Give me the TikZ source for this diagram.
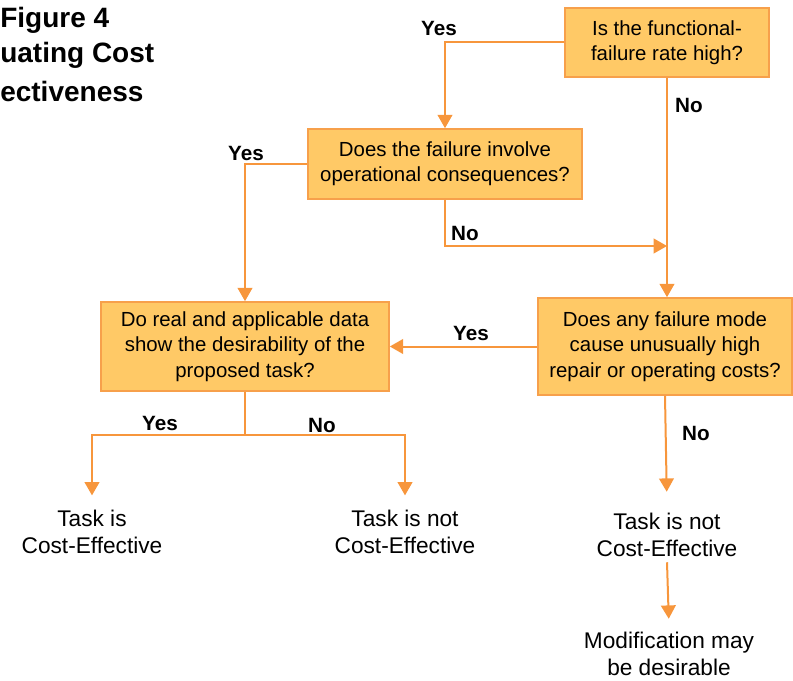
\documentclass[tikz,border=0pt]{standalone}
\usepackage{fontspec}
\setmainfont{Liberation Sans}
\usetikzlibrary{arrows.meta}
\definecolor{flowline}{RGB}{247,150,60}
\definecolor{boxfill}{RGB}{255,201,102}
\definecolor{boxedge}{RGB}{247,160,75}

\begin{document}
\begin{tikzpicture}[x=0.75pt,y=-0.75pt,
    question/.style={draw=boxedge, fill=boxfill, line width=1.2pt, align=center,
        font=\fontsize{15.3}{19}\selectfont, inner sep=0pt},
    outcome/.style={align=center, font=\fontsize{17}{20}\selectfont, inner sep=4pt},
    answer/.style={font=\fontsize{15.5}{18}\selectfont\bfseries, inner sep=0pt},
    heading/.style={font=\fontsize{21}{26}\selectfont\bfseries, inner sep=0pt, anchor=base west},
    flow/.style={draw=flowline, line width=1.5pt},
    arr/.style={flow, -{Triangle[width=11pt,length=10pt]}}]
        \useasboundingbox (0,0) rectangle (793,681);

        % title, cut at the left edge
        \node[heading] (title1) at (0,28) {Figure 4};
        \node[heading] (title2) at (0,63) {uating Cost};
        \node[heading] (title3) at (0,102) {ectiveness};

        % questions
        \node[question, minimum width=153pt, minimum height=51.75pt] (q1) at (667,42.5)
            {Is the functional-\\failure rate high?};
        \node[question, minimum width=205.5pt, minimum height=52.5pt] (q2) at (445,164)
            {Does the failure involve\\operational consequences?};
        \node[question, minimum width=216pt, minimum height=66.75pt] (q3) at (245,346.5)
            {Do real and applicable data\\show the desirability of the\\proposed task?};
        \node[question, minimum width=190.5pt, minimum height=72.75pt] (q4) at (665,346.5)
            {Does any failure mode\\cause unusually high\\repair or operating costs?};

        % outcomes
        \node[outcome] (t1) at (92,532) {Task is\\Cost-Effective};
        \node[outcome] (t2) at (405,532) {Task is not\\Cost-Effective};
        \node[outcome] (t3) at (667,535) {Task is not\\Cost-Effective};
        \node[outcome] (t4) at (669,654) {Modification may\\be desirable};

        \coordinate (merge) at (667,246);
        \coordinate (split) at (245,435);

        % connectors
        \draw[arr] (q1.west) -| (q2.north);
        \draw[arr] (q1.south) -- (q1.south |- q4.north);
        \draw[arr] (q2.west) -| (q3.north);
        \draw[arr] (q2.south) |- (merge);
        \draw[arr] (q4.west) -- (q3.east);
        \draw[flow] (q3.south) -- (split);
        \draw[arr, shorten >=7pt] (split) -| (t1.north);
        \draw[arr, shorten >=7pt] (split) -| (t2.north);
        \draw[arr, shorten >=12pt] (q4.south) -- (t3.north);
        \draw[arr, shorten >=6pt] (t3.south) -- (t4.north);

        % answers
        \node[answer] (yes1) at (439,28) {Yes};
        \node[answer] (no1) at (689,105) {No};
        \node[answer] (yes2) at (246,153) {Yes};
        \node[answer] (no2) at (465,233) {No};
        \node[answer] (yes3) at (471,333) {Yes};
        \node[answer] (yes4) at (160,423) {Yes};
        \node[answer] (no4) at (322,425) {No};
        \node[answer] (no5) at (696,433) {No};
\end{tikzpicture}
\end{document}
